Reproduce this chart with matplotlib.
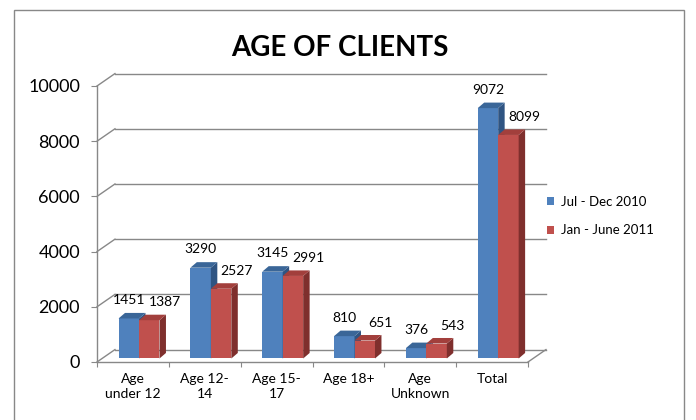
import matplotlib
matplotlib.use('Agg')
import matplotlib.pyplot as plt
from matplotlib.patches import Polygon, Rectangle, Patch

# chart data
categories = ['Age\nunder 12', 'Age 12-\n14', 'Age 15-\n17', 'Age 18+', 'Age\nUnknown', 'Total']
jul_dec_2010 = [1451, 3290, 3145, 810, 376, 9072]
jan_jun_2011 = [1387, 2527, 2991, 651, 543, 8099]
series_names = ['Jul - Dec 2010', 'Jan - June 2011']
y_ticks = [0, 2000, 4000, 6000, 8000, 10000]

plt.rcParams['font.family'] = ['Lato', 'DejaVu Sans']

grey = '#888888'
blue = ['#4F81BD', '#3A6698', '#2F5482']   # front, top, side
red = ['#C0504D', '#A23F3C', '#7F2F2D']

# 3d look: wall offset and bar depth, in data units
wall_dx, wall_dy = 0.25, 450
bar_dx, bar_dy = 0.09, 200
lift = 127
bar_w = 0.285
group_off = 0.30

fig = plt.figure(figsize=(6.96, 4.2), dpi=100)
ax = fig.add_axes([97 / 696, 58 / 420, 431 / 696, 276 / 420])
ax.set_xlim(0, len(categories))
ax.set_ylim(0, 10000)
ax.set_facecolor('none')
for s in ['top', 'right']:
    ax.spines[s].set_visible(False)
for s in ['left', 'bottom']:
    ax.spines[s].set_color(grey)
    ax.spines[s].set_linewidth(1.0)

ax.set_yticks(y_ticks)
ax.set_yticklabels([str(v) for v in y_ticks], fontsize=13)
ax.tick_params(axis='y', direction='out', length=4.3, color=grey, pad=8)
ax.set_xticks(range(len(categories) + 1))
ax.set_xticklabels([])
ax.tick_params(axis='x', which='major', direction='out', length=3.6, color=grey)
ax.set_xticks([i + 0.5 for i in range(len(categories))], minor=True)
ax.set_xticklabels(categories, minor=True, fontsize=10, linespacing=1.25)
ax.tick_params(axis='x', which='minor', length=0, pad=8)

# side wall and back wall gridlines
n = len(categories)
for v in y_ticks:
    ax.plot([0, wall_dx], [v, v + wall_dy], color=grey, lw=1.0, clip_on=False, zorder=1)
    ax.plot([wall_dx, n + wall_dx], [v + wall_dy, v + wall_dy], color=grey, lw=1.0,
            clip_on=False, zorder=1)
ax.plot([n, n + wall_dx], [0, wall_dy], color=grey, lw=1.0, clip_on=False, zorder=1)


def bar3d(x, h, cols, z):
    y0, y1 = lift, lift + h
    ax.add_patch(Polygon([(x, y0), (x + bar_w, y0), (x + bar_w, y1), (x, y1)],
                         closed=True, fc=cols[0], ec='none', zorder=z, clip_on=False))
    ax.add_patch(Polygon([(x + bar_w, y0), (x + bar_w + bar_dx, y0 + bar_dy),
                          (x + bar_w + bar_dx, y1 + bar_dy), (x + bar_w, y1)],
                         closed=True, fc=cols[2], ec='none', zorder=z, clip_on=False))
    ax.add_patch(Polygon([(x, y1), (x + bar_w, y1), (x + bar_w + bar_dx, y1 + bar_dy),
                          (x + bar_dx, y1 + bar_dy)],
                         closed=True, fc=cols[1], ec='none', zorder=z, clip_on=False))


for i in range(n):
    xb = i + group_off
    xr = xb + bar_w
    bar3d(xb, jul_dec_2010[i], blue, 3)
    bar3d(xr, jan_jun_2011[i], red, 4)
    ax.text(xb + bar_w / 2, jul_dec_2010[i] + 795, str(jul_dec_2010[i]),
            ha='center', va='center', fontsize=10, zorder=5)
    ax.text(xr + bar_w / 2 + 0.22, jan_jun_2011[i] + 775, str(jan_jun_2011[i]),
            ha='center', va='center', fontsize=10, zorder=5)

# title
fig.text(340 / 696, 1 - 48 / 420, 'AGE OF CLIENTS', ha='center', va='center',
         fontsize=20, fontweight='bold')

# legend
handles = [Patch(facecolor=blue[0]), Patch(facecolor=red[0])]
fig.legend(handles, series_names, loc='center left', bbox_to_anchor=(547 / 696, 1 - 216 / 420),
           frameon=False, fontsize=9.5, handlelength=0.55, handleheight=0.55,
           handletextpad=0.5, labelspacing=1.25, borderpad=0, borderaxespad=0)

# chart frame
fig.add_artist(Rectangle((14 / 696, -0.1), 670 / 696, 1 - 10 / 420 + 0.1,
                         transform=fig.transFigure, fill=False, ec=grey, lw=1.0))

fig.savefig('out.png', dpi=100)
